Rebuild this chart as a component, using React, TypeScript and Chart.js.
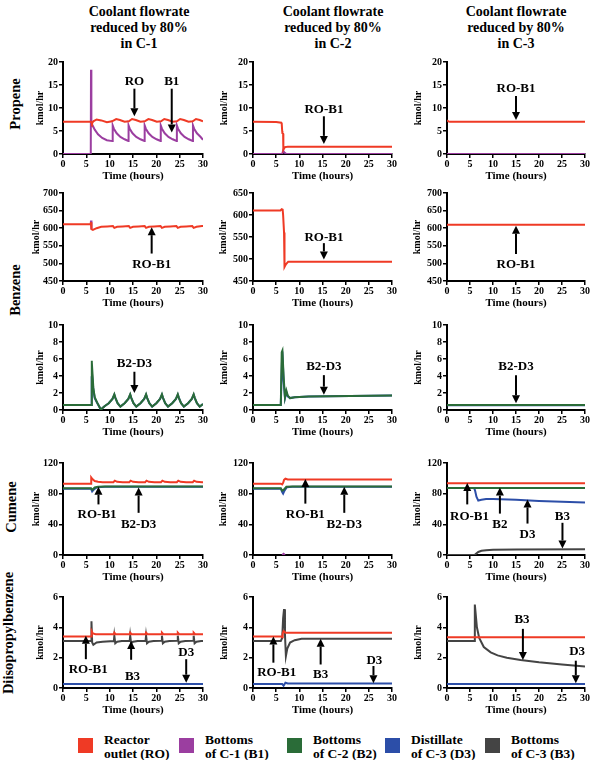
import React, { useEffect, useRef } from "react";
import { Chart, registerables } from "chart.js";

Chart.register(...registerables);

const SERIF = "'Liberation Serif', 'Times New Roman', Times, serif";
Chart.defaults.font.family = SERIF;

const COLORS: Record<string, string> = {
  RO: "#ef3a25",
  B1: "#9b3ea0",
  B2: "#2a6c38",
  D3: "#2c4ea8",
  B3: "#444444",
};

const COLUMN_TITLES = ["in C-1", "in C-2", "in C-3"];
const ROW_LABELS = ["Propene", "Benzene", "Cumene", "Diisopropylbenzene"];
const LEGEND_KEYS = ["RO", "B1", "B2", "D3", "B3"];
const LEGEND_TEXT = [
  ["Reactor", "outlet (RO)"],
  ["Bottoms", "of C-1 (B1)"],
  ["Bottoms", "of C-2 (B2)"],
  ["Distillate", "of C-3 (D3)"],
  ["Bottoms", "of C-3 (B3)"],
];

// ---------- Propene ----------
const prC1RoT = [0, 6.0, 6.2, 6.5, 7.2, 8.2, 9.4, 10.5, 11.4, 12.2, 13.2, 14.1, 14.8, 15.6, 16.6, 17.5, 18.3, 19.1, 20.1, 21.0, 21.7, 22.5, 23.5, 24.4, 25.1, 25.9, 26.9, 27.8, 28.5, 29.3, 30];
const prC1Ro = [7.0, 7.0, 6.6, 7.1, 7.5, 7.3, 6.9, 7.1, 7.6, 7.4, 7.0, 7.1, 7.6, 7.4, 7.0, 7.1, 7.6, 7.4, 7.0, 7.1, 7.6, 7.4, 7.0, 7.1, 7.6, 7.4, 7.0, 7.1, 7.6, 7.4, 7.1];
const prC1B1T = [0, 5.95, 6.0, 6.08, 6.3, 6.8, 7.5, 8.4, 9.4, 10.6, 10.65, 10.9, 11.5, 12.3, 13.2, 14.0, 14.05, 14.3, 14.9, 15.7, 16.6, 17.45, 17.5, 17.75, 18.35, 19.15, 20.05, 20.9, 20.95, 21.2, 21.8, 22.6, 23.5, 24.35, 24.4, 24.65, 25.25, 26.05, 26.95, 27.8, 27.85, 28.1, 28.7, 29.5, 30];
const prC1B1 = [0, 0, 18.3, 6.8, 6.3, 5.3, 4.3, 3.5, 3.0, 2.8, 6.2, 5.5, 4.5, 3.7, 3.2, 2.85, 6.2, 5.5, 4.5, 3.7, 3.2, 2.85, 6.2, 5.5, 4.5, 3.7, 3.2, 2.85, 6.2, 5.5, 4.5, 3.7, 3.2, 2.85, 6.2, 5.5, 4.5, 3.7, 3.2, 2.85, 6.2, 5.5, 4.5, 3.7, 3.1];

const prC2RoT = [0, 5.0, 6.1, 6.2, 6.3, 6.35, 6.5, 6.55, 6.9, 7.5, 30];
const prC2Ro = [7.0, 6.95, 6.8, 6.6, 5.0, 4.5, 4.4, 0.9, 1.5, 1.6, 1.6];
const prC2B1T = [0, 6.3, 6.5, 6.8, 7.2, 30];
const prC2B1 = [0, 0, 0.7, 0.3, 0, 0];

const prC3RoT = [0, 0.3, 0.6, 30];
const prC3Ro = [7.3, 7.1, 7.0, 7.0];
const prC3B1T = [0, 30];
const prC3B1 = [0, 0];

// ---------- Benzene (RO / B1) ----------
const bzC1RoT = [0, 5.95, 6.0, 6.1, 6.4, 7.2, 8.2, 9.5, 10.7, 11.0, 11.6, 12.8, 14.1, 14.4, 15.0, 16.2, 17.5, 17.8, 18.4, 19.6, 20.9, 21.2, 21.8, 23.0, 24.3, 24.6, 25.2, 26.4, 27.7, 28.0, 28.6, 29.8, 30];
const bzC1Ro = [611, 611, 617, 597, 595, 600, 604, 605, 606, 601, 604, 605, 606, 601, 604, 605, 606, 601, 604, 605, 606, 601, 604, 605, 606, 601, 604, 605, 606, 601, 604, 606, 606];
const bzC1B1T = [5.95, 6.0, 6.1];
const bzC1B1 = [611, 622, 597];

const bzC2RoT = [0, 5.9, 6.2, 6.4, 6.5, 6.7, 6.8, 7.1, 7.6, 30];
const bzC2Ro = [610, 610, 613, 612, 600, 560, 482, 488, 494, 494];

const bzC3RoT = [0, 30];
const bzC3Ro = [610, 610];

// ---------- Benzene (B2 / D3) ----------
const bdC1B2T = [0, 6.0, 6.15, 6.2, 6.5, 6.8, 7.3, 8.1, 8.9, 9.8, 10.6, 11.0, 11.25, 11.7, 12.3, 13.2, 14.0, 14.4, 14.65, 15.1, 15.7, 16.6, 17.4, 17.8, 18.05, 18.5, 19.1, 20.0, 20.8, 21.2, 21.45, 21.9, 22.5, 23.4, 24.2, 24.6, 24.85, 25.3, 25.9, 26.8, 27.6, 28.0, 28.25, 28.7, 29.3, 30];
const bdC1B2 = [0.6, 0.6, 5.8, 5.6, 2.6, 1.5, 0.9, 0.05, 0.45, 0.8, 1.3, 1.85, 1.4, 0.8, 0.4, 0.8, 1.3, 1.85, 1.4, 0.8, 0.4, 0.8, 1.3, 1.85, 1.4, 0.8, 0.4, 0.8, 1.3, 1.85, 1.4, 0.8, 0.4, 0.8, 1.3, 1.85, 1.4, 0.8, 0.4, 0.8, 1.3, 1.85, 1.4, 0.8, 0.4, 0.7];
const bdC1D3T = [0, 6.0, 6.15, 6.25, 6.5, 6.8, 7.3, 8.1, 8.9, 9.8, 10.6, 11.0, 11.25, 11.7, 12.3, 13.2, 14.0, 14.4, 14.65, 15.1, 15.7, 16.6, 17.4, 17.8, 18.05, 18.5, 19.1, 20.0, 20.8, 21.2, 21.45, 21.9, 22.5, 23.4, 24.2, 24.6, 24.85, 25.3, 25.9, 26.8, 27.6, 28.0, 28.25, 28.7, 29.3, 30];
const bdC1D3 = [0.6, 0.6, 3.9, 4.0, 2.4, 1.4, 0.85, 0.05, 0.45, 0.8, 1.3, 1.8, 1.4, 0.8, 0.4, 0.8, 1.3, 1.8, 1.4, 0.8, 0.4, 0.8, 1.3, 1.8, 1.4, 0.8, 0.4, 0.8, 1.3, 1.8, 1.4, 0.8, 0.4, 0.8, 1.3, 1.8, 1.4, 0.8, 0.4, 0.8, 1.3, 1.8, 1.4, 0.8, 0.4, 0.7];

const bdC2B2T = [0, 6.0, 6.2, 6.35, 6.6, 6.9, 7.2, 7.5, 8.0, 9.0, 12, 30];
const bdC2B2 = [0.6, 0.6, 6.8, 7.0, 4.0, 1.5, 2.3, 1.7, 1.4, 1.5, 1.6, 1.7];
const bdC2D3T = [0, 6.0, 6.25, 6.4, 6.6, 6.9, 7.2, 7.5, 8.0, 9.0, 12, 30];
const bdC2D3 = [0.6, 0.6, 5.6, 6.0, 3.5, 1.4, 2.1, 1.6, 1.4, 1.5, 1.6, 1.7];

const bdC3B2T = [0, 30];
const bdC3B2 = [0.6, 0.6];
const bdC3D3T = [0, 30];
const bdC3D3 = [0.55, 0.55];

// ---------- Cumene ----------
const cuC1RoT = [0, 6.0, 6.05, 6.3, 6.8, 7.5, 8.5, 9.8, 10.8, 11.1, 11.6, 12.8, 14.2, 14.5, 15.0, 16.2, 17.6, 17.9, 18.4, 19.6, 21.0, 21.3, 21.8, 23.0, 24.4, 24.7, 25.2, 26.4, 27.8, 28.1, 28.6, 29.8, 30];
const cuC1Ro = [93, 93, 101, 99, 96.5, 95.5, 95, 95, 95, 97, 95.5, 95, 95, 97, 95.5, 95, 95, 97, 95.5, 95, 95, 97, 95.5, 95, 95, 97, 95.5, 95, 95, 97, 95.5, 95, 95];
const cuC1B2T = [0, 6.0, 6.3, 6.8, 7.5, 9, 30];
const cuC1B2 = [87, 87, 85, 88, 89, 89.5, 89.5];
const cuC1D3T = [0, 6.0, 6.25, 6.7, 7.3, 9, 30];
const cuC1D3 = [86.5, 86.5, 83, 86, 88.5, 89, 89];

const cuC2RoT = [0, 6.0, 6.3, 6.5, 6.7, 7.0, 7.5, 30];
const cuC2Ro = [93, 93, 92, 94, 98, 99.5, 98.5, 98.5];
const cuC2B2T = [0, 6.0, 6.3, 6.6, 7.2, 8.5, 30];
const cuC2B2 = [87, 87, 84, 85, 89, 89.5, 89.5];
const cuC2D3T = [0, 6.0, 6.3, 6.5, 6.8, 7.3, 8.5, 30];
const cuC2D3 = [86.5, 86.5, 82, 80, 84, 88.5, 89, 89];
const cuC2B1T = [6.3, 6.6, 6.9];
const cuC2B1 = [0, 1.5, 0];

const cuC3RoT = [0, 30];
const cuC3Ro = [93.5, 93.5];
const cuC3B2T = [0, 30];
const cuC3B2 = [87.5, 87.5];
const cuC3D3T = [0, 5.9, 6.1, 6.4, 6.8, 7.5, 8.5, 10, 15, 20, 25, 30];
const cuC3D3 = [87.5, 87.5, 84, 76, 71, 72, 73, 73, 72, 70.5, 69.5, 68.5];
const cuC3B3T = [0, 6.0, 6.3, 6.8, 7.5, 8.5, 10, 15, 30];
const cuC3B3 = [0, 0, 1.5, 4, 5.5, 6.3, 6.8, 7.2, 7.5];

// ---------- Diisopropylbenzene ----------
const dpC1RoT = [0, 6.0, 6.15, 6.4, 7.0, 10.9, 11.0, 11.3, 14.3, 14.4, 14.7, 17.7, 17.8, 18.1, 21.1, 21.2, 21.5, 24.5, 24.6, 24.9, 27.9, 28.0, 28.3, 30];
const dpC1Ro = [3.4, 3.4, 3.75, 3.6, 3.55, 3.55, 3.65, 3.55, 3.55, 3.65, 3.55, 3.55, 3.65, 3.55, 3.55, 3.65, 3.55, 3.55, 3.65, 3.55, 3.55, 3.65, 3.55, 3.55];
const dpC1B3T = [0, 6.0, 6.1, 6.25, 6.5, 7.2, 8.5, 10.9, 11.0, 11.2, 11.6, 12.6, 14.3, 14.4, 14.6, 15.0, 16.0, 17.7, 17.8, 18.0, 18.4, 19.4, 21.1, 21.2, 21.4, 21.8, 22.8, 24.5, 24.6, 24.8, 25.2, 26.2, 27.9, 28.0, 28.2, 28.6, 29.6, 30];
const dpC1B3 = [3.1, 3.1, 4.4, 3.0, 2.85, 3.0, 3.05, 3.1, 3.45, 2.95, 3.05, 3.1, 3.12, 3.45, 2.95, 3.05, 3.1, 3.12, 3.45, 2.95, 3.05, 3.1, 3.12, 3.45, 2.95, 3.05, 3.1, 3.12, 3.45, 2.95, 3.05, 3.1, 3.12, 3.45, 2.95, 3.05, 3.1, 3.1];
const dpC1D3T = [0, 30];
const dpC1D3 = [0.27, 0.27];

const dpC2RoT = [0, 6.0, 6.3, 6.4, 6.6, 7.0, 30];
const dpC2Ro = [3.4, 3.4, 3.35, 3.6, 3.75, 3.65, 3.65];
const dpC2B3T = [0, 6.0, 6.3, 6.5, 6.7, 6.9, 7.1, 7.4, 8.0, 9.0, 10.5, 30];
const dpC2B3 = [3.1, 3.1, 3.3, 4.6, 5.2, 3.5, 2.1, 2.6, 3.0, 3.15, 3.25, 3.25];
const dpC2D3T = [0, 6.3, 6.6, 7.0, 7.5, 30];
const dpC2D3 = [0.27, 0.27, 0.15, 0.35, 0.3, 0.3];

const dpC3RoT = [0, 30];
const dpC3Ro = [3.35, 3.35];
const dpC3B3T = [0, 6.0, 6.05, 6.2, 6.5, 7.0, 8.0, 9.5, 11, 13, 16, 20, 25, 30];
const dpC3B3 = [3.1, 3.1, 5.5, 5.0, 4.0, 3.3, 2.7, 2.35, 2.15, 2.0, 1.85, 1.7, 1.55, 1.42];
const dpC3D3T = [0, 30];
const dpC3D3 = [0.27, 0.27];

// ---------- panel geometry ----------
const ROWS = [
  { top: 62, bottom: 154 },
  { top: 193, bottom: 281 },
  { top: 325, bottom: 410 },
  { top: 463, bottom: 555 },
  { top: 597, bottom: 688 },
];
const COLS = [
  { left: 63, right: 203 },
  { left: 253, right: 392 },
  { left: 447, right: 585 },
];
const PAD_T = 8;
const PAD_R = 14;
const X_H = 29;

type Key = "RO" | "B1" | "B2" | "D3" | "B3";
interface Series { key: Key; t: number[]; v: number[]; }
interface Note { text: string; lx: number; ly: number; ax: number; from: number; to: number; }
interface Panel {
  row: number; col: number;
  yMin: number; yMax: number; yStep: number;
  axisW: number;
  series: Series[];
  notes: Note[];
}

// series listed top-most first
const PANELS: Panel[] = [
  {
    row: 0, col: 0, yMin: 0, yMax: 20, yStep: 5, axisW: 29,
    series: [{ key: "RO", t: prC1RoT, v: prC1Ro }, { key: "B1", t: prC1B1T, v: prC1B1 }],
    notes: [
      { text: "RO", lx: 15.3, ly: 15.8, ax: 15.3, from: 14.2, to: 8.2 },
      { text: "B1", lx: 23.3, ly: 15.8, ax: 23.3, from: 14.2, to: 4.7 },
    ],
  },
  {
    row: 0, col: 1, yMin: 0, yMax: 20, yStep: 5, axisW: 35,
    series: [{ key: "RO", t: prC2RoT, v: prC2Ro }, { key: "B1", t: prC2B1T, v: prC2B1 }],
    notes: [{ text: "RO-B1", lx: 15.3, ly: 9.6, ax: 15.3, from: 8.2, to: 2.2 }],
  },
  {
    row: 0, col: 2, yMin: 0, yMax: 20, yStep: 5, axisW: 35,
    series: [{ key: "RO", t: prC3RoT, v: prC3Ro }, { key: "B1", t: prC3B1T, v: prC3B1 }],
    notes: [{ text: "RO-B1", lx: 15, ly: 14.2, ax: 15, from: 12.6, to: 7.4 }],
  },
  {
    row: 1, col: 0, yMin: 450, yMax: 700, yStep: 50, axisW: 33,
    series: [{ key: "RO", t: bzC1RoT, v: bzC1Ro }, { key: "B1", t: bzC1B1T, v: bzC1B1 }],
    notes: [{ text: "RO-B1", lx: 19, ly: 497, ax: 19, from: 528, to: 603 }],
  },
  {
    row: 1, col: 1, yMin: 450, yMax: 650, yStep: 50, axisW: 36,
    series: [{ key: "RO", t: bzC2RoT, v: bzC2Ro }],
    notes: [{ text: "RO-B1", lx: 15.3, ly: 548, ax: 15.3, from: 536, to: 499 }],
  },
  {
    row: 1, col: 2, yMin: 450, yMax: 700, yStep: 50, axisW: 36,
    series: [{ key: "RO", t: bzC3RoT, v: bzC3Ro }],
    notes: [{ text: "RO-B1", lx: 15, ly: 497, ax: 15, from: 527, to: 607 }],
  },
  {
    row: 2, col: 0, yMin: 0, yMax: 10, yStep: 2, axisW: 29,
    series: [{ key: "B2", t: bdC1B2T, v: bdC1B2 }, { key: "D3", t: bdC1D3T, v: bdC1D3 }],
    notes: [{ text: "B2-D3", lx: 15.3, ly: 5.5, ax: 15.3, from: 4.5, to: 2.0 }],
  },
  {
    row: 2, col: 1, yMin: 0, yMax: 10, yStep: 2, axisW: 35,
    series: [{ key: "B2", t: bdC2B2T, v: bdC2B2 }, { key: "D3", t: bdC2D3T, v: bdC2D3 }],
    notes: [{ text: "B2-D3", lx: 15.3, ly: 5.1, ax: 15.3, from: 4.1, to: 1.8 }],
  },
  {
    row: 2, col: 2, yMin: 0, yMax: 10, yStep: 2, axisW: 35,
    series: [{ key: "B2", t: bdC3B2T, v: bdC3B2 }, { key: "D3", t: bdC3D3T, v: bdC3D3 }],
    notes: [{ text: "B2-D3", lx: 15, ly: 5.1, ax: 15, from: 4.1, to: 0.8 }],
  },
  {
    row: 3, col: 0, yMin: 0, yMax: 120, yStep: 40, axisW: 33,
    series: [
      { key: "RO", t: cuC1RoT, v: cuC1Ro },
      { key: "B2", t: cuC1B2T, v: cuC1B2 },
      { key: "D3", t: cuC1D3T, v: cuC1D3 },
    ],
    notes: [
      { text: "RO-B1", lx: 7.3, ly: 52, ax: 7.6, from: 66, to: 89 },
      { text: "B2-D3", lx: 16.2, ly: 39, ax: 16.2, from: 55, to: 88 },
    ],
  },
  {
    row: 3, col: 1, yMin: 0, yMax: 120, yStep: 40, axisW: 36,
    series: [
      { key: "RO", t: cuC2RoT, v: cuC2Ro },
      { key: "B2", t: cuC2B2T, v: cuC2B2 },
      { key: "D3", t: cuC2D3T, v: cuC2D3 },
      { key: "B1", t: cuC2B1T, v: cuC2B1 },
    ],
    notes: [
      { text: "RO-B1", lx: 11.3, ly: 52, ax: 11.3, from: 67, to: 99 },
      { text: "B2-D3", lx: 19.7, ly: 39, ax: 19.7, from: 55, to: 89 },
    ],
  },
  {
    row: 3, col: 2, yMin: 0, yMax: 120, yStep: 40, axisW: 36,
    series: [
      { key: "RO", t: cuC3RoT, v: cuC3Ro },
      { key: "B2", t: cuC3B2T, v: cuC3B2 },
      { key: "D3", t: cuC3D3T, v: cuC3D3 },
      { key: "B3", t: cuC3B3T, v: cuC3B3 },
    ],
    notes: [
      { text: "RO-B1", lx: 4.9, ly: 49.5, ax: 4.4, from: 66, to: 94 },
      { text: "B2", lx: 11.5, ly: 39.5, ax: 11.5, from: 54, to: 88 },
      { text: "D3", lx: 17.5, ly: 27, ax: 17.5, from: 41, to: 72.5 },
      { text: "B3", lx: 25.1, ly: 50.5, ax: 25.1, from: 42, to: 8.5 },
    ],
  },
  {
    row: 4, col: 0, yMin: 0, yMax: 6, yStep: 2, axisW: 29,
    series: [
      { key: "RO", t: dpC1RoT, v: dpC1Ro },
      { key: "B3", t: dpC1B3T, v: dpC1B3 },
      { key: "D3", t: dpC1D3T, v: dpC1D3 },
    ],
    notes: [
      { text: "RO-B1", lx: 5.4, ly: 1.2, ax: 4.9, from: 1.9, to: 3.45 },
      { text: "B3", lx: 14.9, ly: 0.75, ax: 14.6, from: 1.86, to: 3.1 },
      { text: "D3", lx: 26.4, ly: 2.35, ax: 26.4, from: 1.9, to: 0.35 },
    ],
  },
  {
    row: 4, col: 1, yMin: 0, yMax: 6, yStep: 2, axisW: 35,
    series: [
      { key: "RO", t: dpC2RoT, v: dpC2Ro },
      { key: "B3", t: dpC2B3T, v: dpC2B3 },
      { key: "D3", t: dpC2D3T, v: dpC2D3 },
    ],
    notes: [
      { text: "RO-B1", lx: 5.1, ly: 1.0, ax: 4.4, from: 1.67, to: 3.4 },
      { text: "B3", lx: 14.6, ly: 0.85, ax: 14.6, from: 1.55, to: 3.25 },
      { text: "D3", lx: 26.2, ly: 1.8, ax: 26.0, from: 1.45, to: 0.32 },
    ],
  },
  {
    row: 4, col: 2, yMin: 0, yMax: 6, yStep: 2, axisW: 35,
    series: [
      { key: "RO", t: dpC3RoT, v: dpC3Ro },
      { key: "B3", t: dpC3B3T, v: dpC3B3 },
      { key: "D3", t: dpC3D3T, v: dpC3D3 },
    ],
    notes: [
      { text: "B3", lx: 16.3, ly: 4.5, ax: 16.5, from: 3.9, to: 1.85 },
      { text: "D3", lx: 28.3, ly: 2.4, ax: 28.0, from: 1.8, to: 0.32 },
    ],
  },
];

// Arrow + label callouts, positioned in data units through the chart scales
const calloutPlugin = {
  id: "callouts",
  afterDatasetsDraw(chart: any, _args: any, opts: any) {
    const notes: Note[] = opts.items || [];
    const { ctx } = chart;
    const xs = chart.scales.x;
    const ys = chart.scales.y;
    ctx.save();
    ctx.fillStyle = "#000";
    ctx.strokeStyle = "#000";
    ctx.font = `bold 13px ${SERIF}`;
    ctx.textAlign = "center";
    ctx.textBaseline = "middle";
    for (const n of notes) {
      ctx.fillText(n.text, xs.getPixelForValue(n.lx), ys.getPixelForValue(n.ly));
      const ax = xs.getPixelForValue(n.ax);
      const y0 = ys.getPixelForValue(n.from);
      const y1 = ys.getPixelForValue(n.to);
      const dir = Math.sign(y1 - y0);
      const head = 8;
      ctx.lineWidth = 2;
      ctx.beginPath();
      ctx.moveTo(ax, y0);
      ctx.lineTo(ax, y1 - dir * head);
      ctx.stroke();
      ctx.beginPath();
      ctx.moveTo(ax - 4, y1 - dir * head);
      ctx.lineTo(ax + 4, y1 - dir * head);
      ctx.lineTo(ax, y1);
      ctx.closePath();
      ctx.fill();
    }
    ctx.restore();
  },
};

function PanelChart({ p }: { p: Panel }) {
  const ref = useRef<HTMLCanvasElement | null>(null);
  const r = ROWS[p.row];
  const c = COLS[p.col];
  const width = c.right - c.left + p.axisW + PAD_R;
  const height = r.bottom - r.top + PAD_T + X_H;

  useEffect(() => {
    if (!ref.current) return;
    const tickFont = { family: SERIF, size: 10, weight: "bold" as const };
    const axisCommon = {
      grid: {
        display: true,
        drawOnChartArea: false,
        drawTicks: true,
        tickLength: 4,
        color: "#000",
        lineWidth: 1.5,
      },
      border: { display: true, color: "#000", width: 2 },
    };
    const chart = new Chart(ref.current, {
      type: "line",
      data: {
        datasets: p.series.map((s) => ({
          data: s.t.map((t, i) => ({ x: t, y: s.v[i] })),
          borderColor: COLORS[s.key],
          backgroundColor: COLORS[s.key],
          borderWidth: 2,
          pointRadius: 0,
          tension: 0,
          fill: false,
        })),
      },
      options: {
        responsive: false,
        animation: false,
        devicePixelRatio: 1,
        events: [],
        layout: { padding: { left: 0, top: PAD_T, right: PAD_R, bottom: 0 } },
        plugins: {
          legend: { display: false },
          tooltip: { enabled: false },
          callouts: { items: p.notes },
        } as any,
        scales: {
          x: {
            type: "linear",
            min: 0,
            max: 30,
            ticks: { stepSize: 5, font: tickFont, color: "#000", padding: 0, maxRotation: 0, autoSkip: false },
            title: {
              display: true,
              text: "Time (hours)",
              color: "#000",
              font: { family: SERIF, size: 11, weight: "bold" },
              padding: 0,
            },
            afterFit: (s: any) => {
              s.height = X_H;
            },
            ...axisCommon,
          },
          y: {
            type: "linear",
            min: p.yMin,
            max: p.yMax,
            ticks: { stepSize: p.yStep, font: tickFont, color: "#000", padding: 1 },
            title: {
              display: true,
              text: "kmol/hr",
              color: "#000",
              font: { family: SERIF, size: 10, weight: "bold" },
              padding: 0,
            },
            afterFit: (s: any) => {
              s.width = p.axisW;
            },
            ...axisCommon,
          },
        },
      } as any,
      plugins: [calloutPlugin],
    });
    return () => chart.destroy();
  }, []);

  return (
    <canvas
      ref={ref}
      width={width}
      height={height}
      style={{ position: "absolute", left: c.left - p.axisW, top: r.top - PAD_T, display: "block" }}
    />
  );
}

const TITLE_X = [139, 333, 516];
const ROW_LABEL_POS = [
  { x: 15, y: 104 },
  { x: 15, y: 290 },
  { x: 11, y: 507 },
  { x: 8, y: 633 },
];
const LEGEND_SWATCH_X = [78, 179, 287, 385, 485];

export default function App() {
  const bold = { fontFamily: SERIF, fontWeight: 700, color: "#000" } as const;
  return (
    <div style={{ position: "absolute", left: 0, top: 0, width: 598, height: 760, background: "#fff", overflow: "hidden" }}>
      {COLUMN_TITLES.map((last, i) => (
        <div
          key={last}
          style={{
            ...bold,
            position: "absolute",
            left: TITLE_X[i] - 80,
            top: 4,
            width: 160,
            textAlign: "center",
            fontSize: 14,
            lineHeight: "16px",
          }}
        >
          Coolant flowrate
          <br />
          reduced by 80%
          <br />
          {last}
        </div>
      ))}
      {ROW_LABELS.map((label, i) => (
        <div
          key={label}
          style={{
            ...bold,
            position: "absolute",
            left: ROW_LABEL_POS[i].x,
            top: ROW_LABEL_POS[i].y,
            transform: "translate(-50%, -50%) rotate(-90deg)",
            fontSize: 14.5,
            whiteSpace: "nowrap",
            lineHeight: "16px",
          }}
        >
          {label}
        </div>
      ))}
      {PANELS.map((p) => (
        <PanelChart key={`${p.row}-${p.col}`} p={p} />
      ))}
      {LEGEND_KEYS.map((k, i) => (
        <React.Fragment key={k}>
          <div
            style={{
              position: "absolute",
              left: LEGEND_SWATCH_X[i],
              top: 738,
              width: 15,
              height: 15,
              background: COLORS[k],
            }}
          />
          <div
            style={{
              ...bold,
              position: "absolute",
              left: LEGEND_SWATCH_X[i] + 26,
              top: 733,
              fontSize: 13.5,
              lineHeight: "14px",
              whiteSpace: "nowrap",
            }}
          >
            {LEGEND_TEXT[i][0]}
            <br />
            {LEGEND_TEXT[i][1]}
          </div>
        </React.Fragment>
      ))}
    </div>
  );
}
